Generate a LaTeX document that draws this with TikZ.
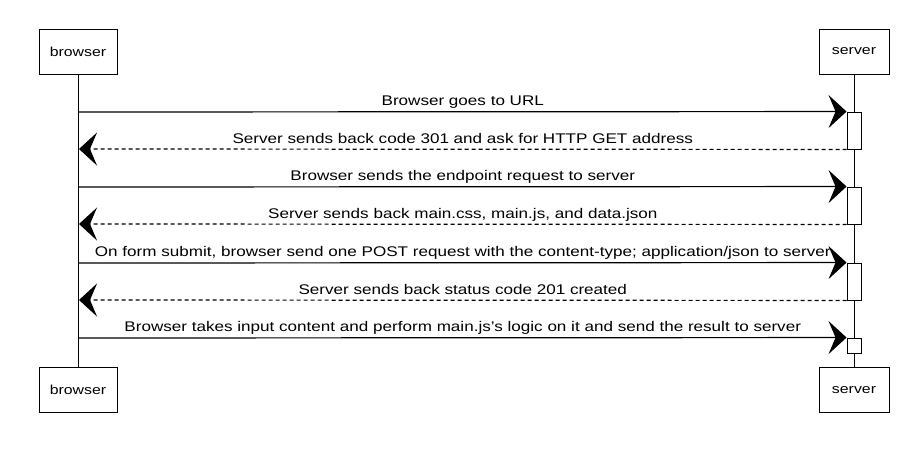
\documentclass[tikz,border=0pt]{standalone}
\usepackage{fontspec}
\setmainfont{Liberation Sans}[FakeStretch=1.22]
\usetikzlibrary{arrows.meta}
\begin{document}
\begin{tikzpicture}[x=1pt,y=-1pt,
  actor/.style={draw, line width=0.9pt, fill=white, minimum width=78pt, minimum height=45pt, inner sep=0pt, font=\fontsize{13}{15}\selectfont},
  act/.style={draw, line width=0.9pt, fill=white, minimum width=14pt, inner sep=0pt},
  life/.style={line width=0.9pt},
  msg/.style={line width=1.2pt, -{Stealth[length=18pt,width=33pt,inset=7pt]}},
  ret/.style={msg, dash pattern=on 4pt off 3pt},
  lbl/.style={font=\fontsize{14}{16}\selectfont, anchor=base, inner sep=0pt, yshift=6pt}
]
\path[use as bounding box, fill=white] (0,0) rectangle (922,458);

% actors
\node[actor] (browser)  at (78,51.5)  {browser};
\node[actor] (browser2) at (78,389.5) {browser};
\node[actor, minimum width=70pt] (server)  at (854,51.5)  {server};
\node[actor, minimum width=70pt] (server2) at (854,390)   {server};

% lifelines
\draw[life] (browser.south) -- (browser2.north);
\draw[life] (server.south) -- (server2.north);

% activation boxes
\node[act, minimum height=37pt] (act1) at (854,130.5) {};
\node[act, minimum height=37pt] (act2) at (854,205.5) {};
\node[act, minimum height=37pt] (act3) at (854,281.5) {};
\node[act, minimum height=15pt] (act4) at (854,345.5) {};

% points on the browser lifeline
\coordinate (b1) at (79,112);
\coordinate (b2) at (79,149);
\coordinate (b3) at (79,187);
\coordinate (b4) at (79,224);
\coordinate (b5) at (79,263);
\coordinate (b6) at (79,300);
\coordinate (b7) at (79,338);

% messages
\draw[msg] (b1) -- (act1.north west) node[lbl, pos=0.5] {Browser goes to URL};
\draw[ret] (act1.south west) -- (b2) node[lbl, pos=0.5] {Server sends back code 301 and ask for HTTP GET address};
\draw[msg] (b3) -- (act2.north west) node[lbl, pos=0.5] {Browser sends the endpoint request to server};
\draw[ret] (act2.south west) -- (b4) node[lbl, pos=0.5] {Server sends back main.css, main.js, and data.json};
\draw[msg] (b5) -- (act3.north west) node[lbl, pos=0.5] {On form submit, browser send one POST request with the content-type; application/json to server};
\draw[ret] (act3.south west) -- (b6) node[lbl, pos=0.5] {Server sends back status code 201 created};
\draw[msg] (b7) -- (act4.north west) node[lbl, pos=0.5] {Browser takes input content and perform main.js's logic on it and send the result to server};
\end{tikzpicture}
\end{document}
